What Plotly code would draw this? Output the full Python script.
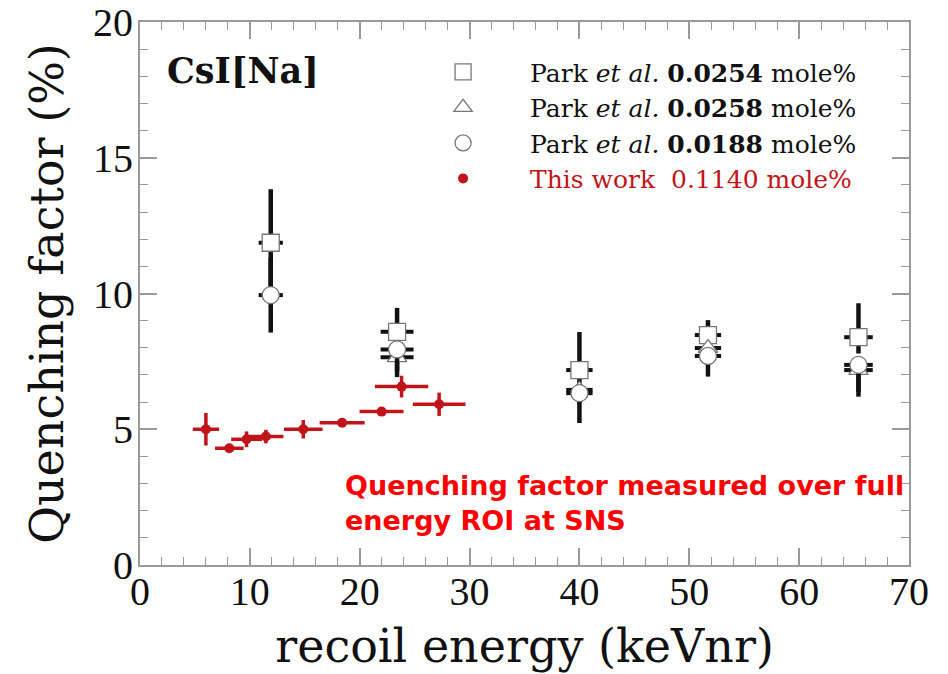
import plotly.graph_objects as go

# ---- data ----
# Park et al. 0.0254 mole% (squares)
sq_x = [11.9, 23.4, 40.0, 51.7, 65.4]
sq_y = [11.87, 8.59, 7.18, 8.47, 8.39]
sq_ep = [1.97, 0.88, 1.40, 0.55, 1.25]
sq_em = [1.97, 0.50, 0.50, 0.40, 0.60]
sq_ex = [1.1, 1.5, 1.2, 1.2, 1.3]

# Park et al. 0.0258 mole% (triangles)
tr_x = [23.4, 40.0, 51.7, 65.4]
tr_y = [7.65, 6.45, 7.99, 7.18]
tr_ep = [0.20, 0.20, 0.15, 0.20]
tr_em = [0.73, 0.50, 0.50, 0.80]
tr_ex = [1.5, 1.2, 1.2, 1.3]

# Park et al. 0.0188 mole% (circles)
ci_x = [11.9, 23.4, 40.0, 51.7, 65.4]
ci_y = [9.94, 7.94, 6.33, 7.70, 7.37]
ci_ep = [1.38, 0.30, 0.30, 0.20, 0.30]
ci_em = [1.38, 0.80, 1.10, 0.76, 1.17]
ci_ex = [1.1, 1.5, 1.2, 1.2, 1.3]

# This work 0.1140 mole%
tw_x = [6.0, 8.13, 9.7, 11.46, 14.86, 18.4, 21.99, 23.81, 27.23]
tw_y = [5.0, 4.30, 4.63, 4.73, 5.0, 5.24, 5.65, 6.57, 5.92]
tw_ex = [1.2, 1.3, 1.4, 1.6, 1.76, 2.05, 2.0, 2.43, 2.4]
tw_ey = [0.6, 0.15, 0.29, 0.25, 0.34, 0.1, 0.12, 0.4, 0.43]

RED = "#c0141a"
BLK = "#111111"
OUT = "#777777"

names = [
    "Park <i>et al.</i> <b>0.0254</b> mole%",
    "Park <i>et al.</i> <b>0.0258</b> mole%",
    "Park <i>et al.</i> <b>0.0188</b> mole%",
    "<span style='color:%s'>This work  0.1140 mole%%</span>" % RED,
]

x_ticks = [0, 10, 20, 30, 40, 50, 60, 70]
y_ticks = [0, 5, 10, 15, 20]

fig = go.Figure()

def park(x, y, ep, em, ex, sym, name, grp):
    fig.add_trace(go.Scatter(
        x=x, y=y, mode="markers", name=name, legendgroup=grp,
        marker=dict(symbol=sym, size=17, color="white", line=dict(color=OUT, width=1.3)),
        error_y=dict(type="data", array=ep, arrayminus=em, symmetric=False,
                     color=BLK, thickness=4.5, width=0),
        error_x=dict(type="data", array=ex, color=BLK, thickness=4, width=0),
    ))

park(sq_x, sq_y, sq_ep, sq_em, sq_ex, "square", names[0], "a")
park(tr_x, tr_y, tr_ep, tr_em, tr_ex, "triangle-up", names[1], "b")
park(ci_x, ci_y, ci_ep, ci_em, ci_ex, "circle", names[2], "c")

fig.add_trace(go.Scatter(
    x=tw_x, y=tw_y, mode="markers", name=names[3], legendgroup="d",
    marker=dict(symbol="circle", size=10, color=RED),
    error_y=dict(type="data", array=tw_ey, color=RED, thickness=3.5, width=0),
    error_x=dict(type="data", array=tw_ex, color=RED, thickness=3.5, width=0),
))

axis_common = dict(
    showline=True, linecolor="#9a9a9a", linewidth=2, mirror="ticks",
    ticks="inside", ticklen=17, tickwidth=1.5, tickcolor="#9a9a9a",
    showgrid=False, zeroline=False, automargin=False,
    tickfont=dict(family="Liberation Serif", size=40, color="#111"),
)

fig.update_xaxes(
    range=[0, 70], tickvals=x_ticks, ticktext=[str(v) for v in x_ticks],
    minor=dict(dtick=2, ticks="inside", ticklen=8, tickwidth=1.2, tickcolor="#9a9a9a", showgrid=False),
    title=dict(text="recoil energy (keVnr)", font=dict(family="DejaVu Serif", size=46, color="#111"), standoff=17),
    ticklabelstandoff=-10,
    **axis_common,
)
fig.update_yaxes(
    range=[0, 20], tickvals=y_ticks, ticktext=[str(v) for v in y_ticks],
    minor=dict(dtick=1, ticks="inside", ticklen=8, tickwidth=1.2, tickcolor="#9a9a9a", showgrid=False),
    title=dict(text="Quenching factor (%)", font=dict(family="DejaVu Serif", size=46, color="#111"), standoff=15),
    ticklabelstandoff=-3,
    **axis_common,
)

fig.update_layout(
    width=948, height=674,
    margin=dict(l=140, r=39, t=22, b=109),
    paper_bgcolor="white", plot_bgcolor="white",
    showlegend=True,
    legend=dict(
        x=0.333, y=0.95, xanchor="left", yanchor="top",
        bgcolor="rgba(0,0,0,0)", borderwidth=0,
        font=dict(family="DejaVu Serif", size=25, color="#111"),
        itemwidth=124, tracegroupgap=0, traceorder="grouped",
    ),
    annotations=[
        dict(text="<b>CsI[Na]</b>", xref="paper", yref="paper", x=0.032, y=0.91,
             xanchor="left", yanchor="middle", showarrow=False,
             font=dict(family="DejaVu Serif", size=35, color="#111")),
        dict(text="Quenching factor measured over full<br>energy ROI at SNS",
             xref="paper", yref="paper", x=0.264, y=0.114, xanchor="left", yanchor="middle",
             align="left", showarrow=False,
             font=dict(family="DejaVu Sans", size=27, color="#ff0000", weight="bold")),
    ],
)

fig.write_html("out.html")
